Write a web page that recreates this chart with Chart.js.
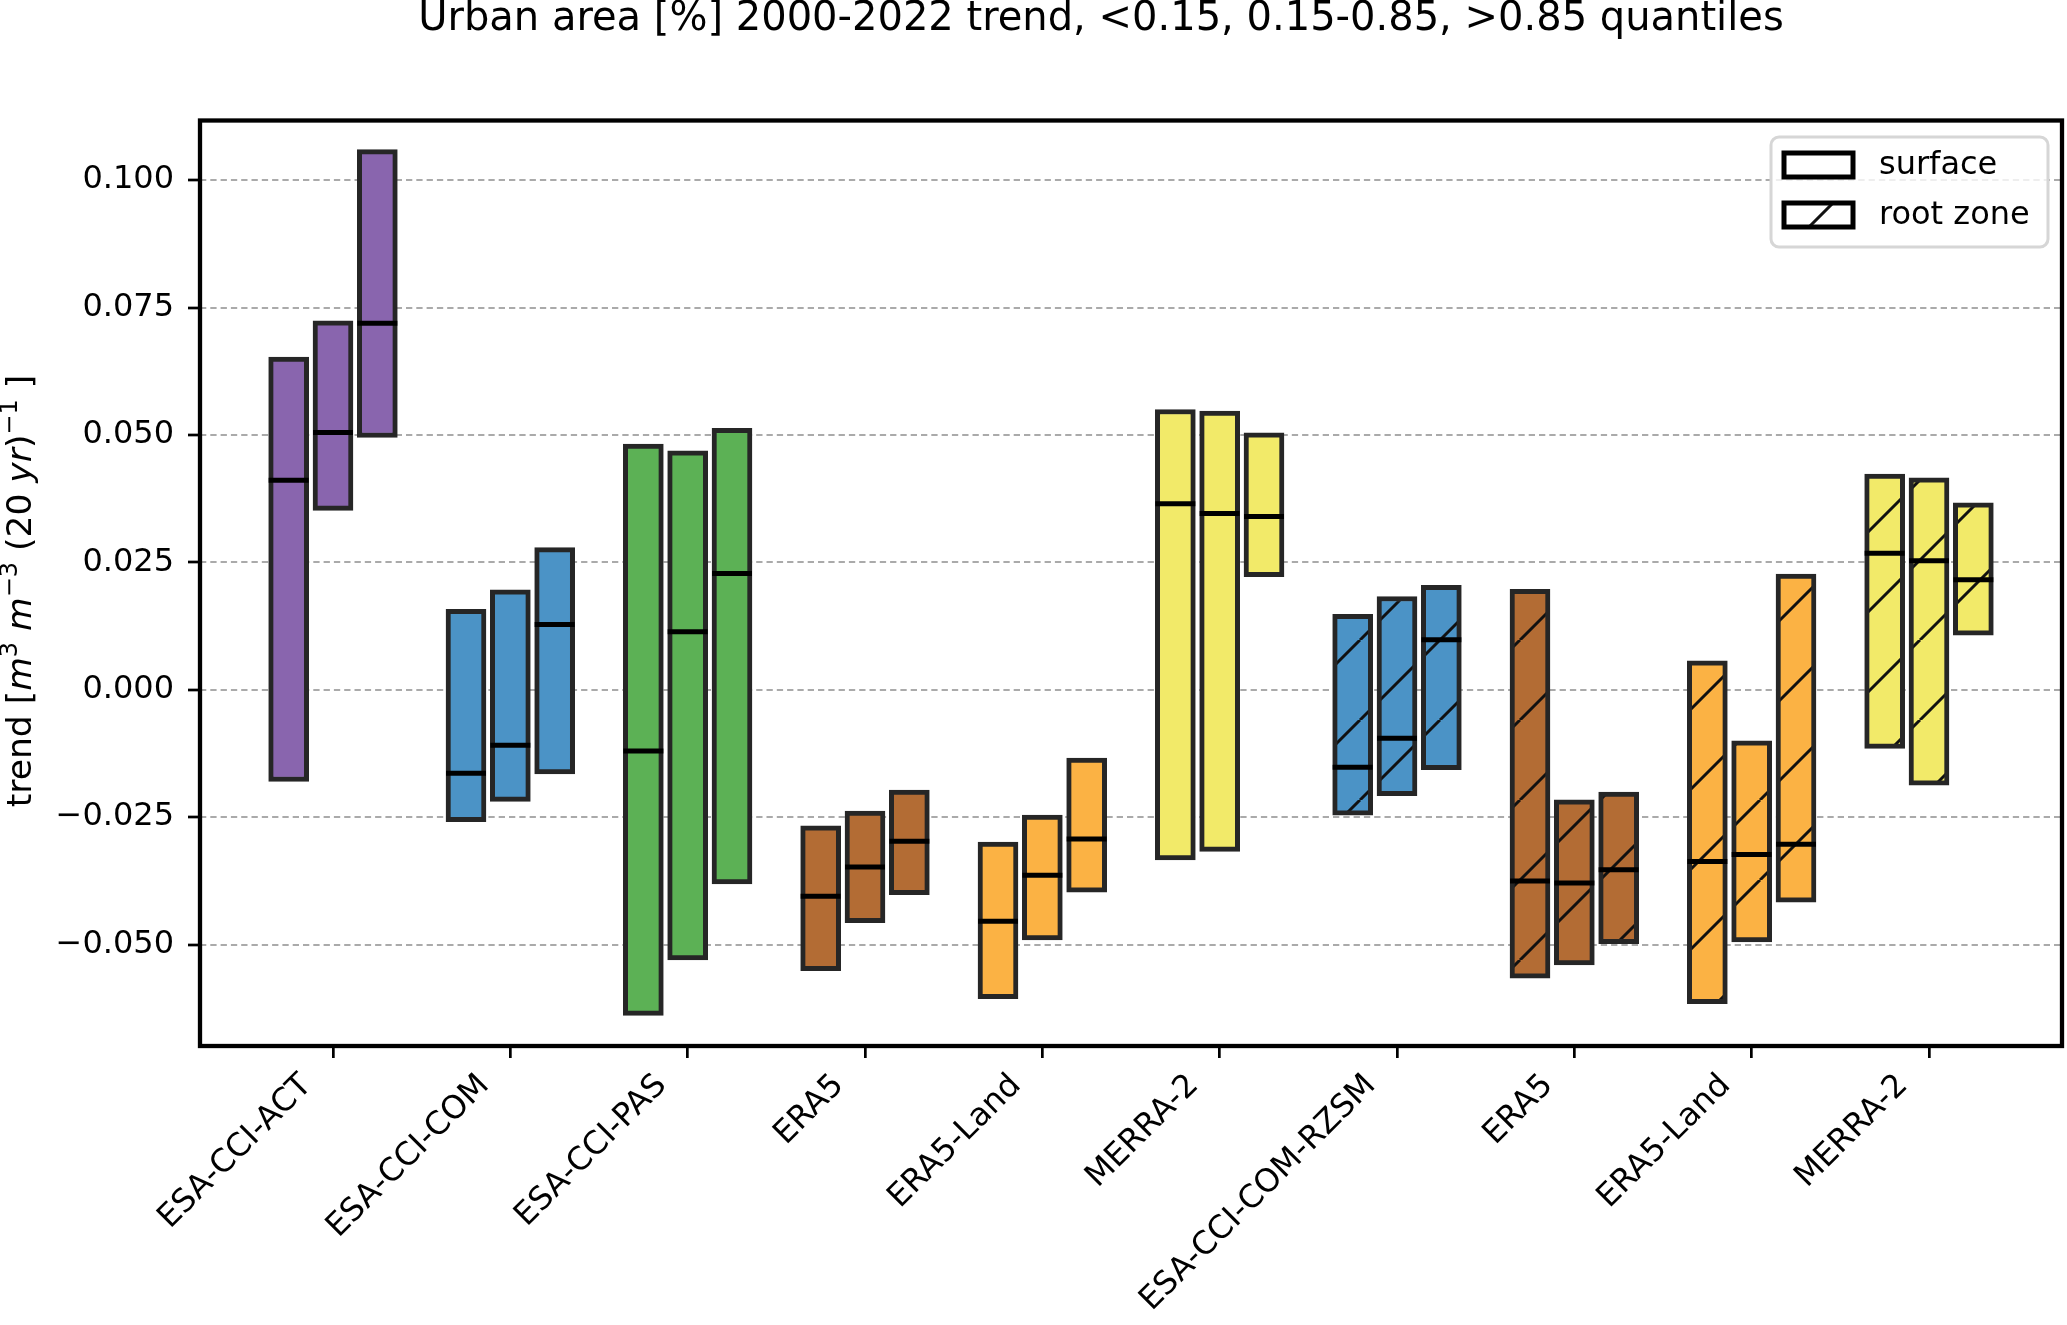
<!DOCTYPE html>
<html>
<head>
<meta charset="utf-8">
<script src="https://cdn.jsdelivr.net/npm/chart.js@4.4.0/dist/chart.umd.min.js"></script>
<style>
  html, body { margin: 0; padding: 0; background: #fff; }
  #wrap { width: 2067px; height: 1325px; }
</style>
</head>
<body>
<div id="wrap"><canvas id="trendChart" width="2067" height="1325"></canvas></div>
<script>
// products, and whether each one is a surface or a root zone product
const categories = ['ESA-CCI-ACT', 'ESA-CCI-COM', 'ESA-CCI-PAS', 'ERA5', 'ERA5-Land', 'MERRA-2',
                    'ESA-CCI-COM-RZSM', 'ERA5', 'ERA5-Land', 'MERRA-2'];
const layer = ['surface', 'surface', 'surface', 'surface', 'surface', 'surface',
               'root zone', 'root zone', 'root zone', 'root zone'];
const layerNames = ['surface', 'root zone'];
const yTicks = [-0.05, -0.025, 0, 0.025, 0.05, 0.075, 0.1];

// urban area < 0.15 quantile
const q15Low  = [-0.0180, -0.0259, -0.0639, -0.0551, -0.0606, -0.0334, -0.0246, -0.0566, -0.0616, -0.0115];
const q15Med  = [ 0.0411, -0.0164, -0.0120, -0.0405, -0.0454,  0.0365, -0.0152, -0.0375, -0.0337,  0.0268];
const q15High = [ 0.0653,  0.0158,  0.0482, -0.0267, -0.0299,  0.0550,  0.0148,  0.0197,  0.0057,  0.0423];
// 0.15 - 0.85
const midLow  = [ 0.0352, -0.0219, -0.0530, -0.0457, -0.0491, -0.0317, -0.0208, -0.0540, -0.0495, -0.0187];
const midMed  = [ 0.0505, -0.0109,  0.0114, -0.0348, -0.0364,  0.0346, -0.0095, -0.0379, -0.0323,  0.0253];
const midHigh = [ 0.0724,  0.0196,  0.0469, -0.0238, -0.0246,  0.0547,  0.0183, -0.0216, -0.0100,  0.0416];
// > 0.85
const q85Low  = [ 0.0495, -0.0165, -0.0381, -0.0402, -0.0397,  0.0222, -0.0157, -0.0498, -0.0417,  0.0107];
const q85Med  = [ 0.0719,  0.0128,  0.0228, -0.0297, -0.0293,  0.0340,  0.0098, -0.0353, -0.0303,  0.0216];
const q85High = [ 0.1060,  0.0279,  0.0513, -0.0197, -0.0134,  0.0504,  0.0205, -0.0201,  0.0227,  0.0367];

const boxColors = ['#8965ae', '#4b93c6', '#5cb155', '#b36c34', '#fbb244', '#f2ea69',
                   '#4b93c6', '#b36c34', '#fbb244', '#f2ea69'];

const groups = [
    { lo: q15Low, med: q15Med, hi: q15High, shift: -0.25 },
    { lo: midLow, med: midMed, hi: midHigh, shift: 0 },
    { lo: q85Low, med: q85Med, hi: q85High, shift: 0.25 }
];

// '/' hatch like matplotlib
function hatch(color) {
    const s = 80;
    const c = document.createElement('canvas');
    c.width = s; c.height = s;
    const g = c.getContext('2d');
    g.fillStyle = color;
    g.fillRect(0, 0, s, s);
    g.strokeStyle = '#111';
    g.lineWidth = 3;
    g.beginPath();
    for (let k = -1; k <= 1; k++) {
        g.moveTo(k * s, s);
        g.lineTo(k * s + s, 0);
    }
    g.stroke();
    return g.createPattern(c, 'repeat');
}

const datasets = [];
groups.forEach(g => {
    datasets.push({
        type: 'bar',
        order: 1,
        data: categories.map((c, i) => ({ x: i + g.shift, y: [g.lo[i], g.hi[i]] })),
        backgroundColor: categories.map((c, i) => layer[i] === 'root zone' ? hatch(boxColors[i]) : boxColors[i]),
        borderColor: '#262626',
        borderWidth: 5,
        borderSkipped: false,
        barThickness: 40,
        grouped: false
    });
    datasets.push({
        type: 'scatter',
        order: 0,
        data: categories.map((c, i) => ({ x: i + g.shift, y: g.med[i] })),
        pointStyle: 'line',
        pointRadius: 20,
        pointBorderWidth: 5,
        borderColor: '#000'
    });
});

// the title sits a bit left of the axes centre in the original
const titleShift = {
    id: 'titleShift',
    afterLayout(chart) { chart.titleBlock.left = 140; }
};

const frame = {
    id: 'frame',
    afterDatasetsDraw(chart) {
        const { ctx, chartArea: a } = chart;
        ctx.save();
        ctx.strokeStyle = '#000';
        ctx.lineWidth = 4.3;
        ctx.strokeRect(a.left, a.top, a.right - a.left, a.bottom - a.top);
        ctx.restore();
    }
};

const legendBox = {
    id: 'legendBox',
    afterDraw(chart) {
        const { ctx, chartArea: a } = chart;
        const x0 = a.right - 291, y0 = a.top + 16.5;
        ctx.save();
        ctx.fillStyle = 'rgba(255,255,255,0.8)';
        ctx.strokeStyle = '#d6d6d6';
        ctx.lineWidth = 3;
        ctx.beginPath();
        ctx.roundRect(x0, y0, 277, 110, 8);
        ctx.fill();
        ctx.stroke();
        layerNames.forEach((name, k) => {
            const sx = x0 + 13, sy = y0 + 16 + k * 50;
            ctx.fillStyle = '#fff';
            ctx.fillRect(sx, sy, 69, 24);
            if (name === 'root zone') {
                ctx.save();
                ctx.beginPath();
                ctx.rect(sx, sy, 69, 24);
                ctx.clip();
                ctx.strokeStyle = '#111';
                ctx.lineWidth = 3;
                ctx.beginPath();
                ctx.moveTo(sx + 23, sy + 26);
                ctx.lineTo(sx + 51, sy - 2);
                ctx.stroke();
                ctx.restore();
            }
            ctx.strokeStyle = '#000';
            ctx.lineWidth = 5;
            ctx.strokeRect(sx, sy, 69, 24);
            ctx.fillStyle = '#000';
            ctx.font = '32px "DejaVu Sans"';
            ctx.textBaseline = 'middle';
            ctx.fillText(name, x0 + 108, sy + 13);
        });
        ctx.restore();
    }
};

// y axis label with italic units and superscripts
const yTitleParts = [
    ['trend [', 'normal', 0], ['m', 'italic', 0], ['3', 'normal', 1], [' ', 'normal', 0],
    ['m', 'italic', 0], ['\u22123', 'normal', 1], [' (20 ', 'normal', 0], ['yr', 'italic', 0],
    [')', 'normal', 0], ['\u22121', 'normal', 1], [' ]', 'normal', 0]
];
const yTitle = {
    id: 'yTitle',
    afterDraw(chart) {
        const { ctx } = chart;
        const fontOf = p => p[2] ? '24px "DejaVu Sans"' : `${p[1]} 34.5px "DejaVu Sans"`;
        ctx.save();
        ctx.translate(18.5, 591);
        ctx.rotate(-Math.PI / 2);
        let total = 0;
        yTitleParts.forEach(p => { ctx.font = fontOf(p); total += ctx.measureText(p[0]).width; });
        let x = -total / 2;
        ctx.fillStyle = '#000';
        ctx.textBaseline = 'alphabetic';
        yTitleParts.forEach(p => {
            ctx.font = fontOf(p);
            ctx.fillText(p[0], x, p[2] ? -2 : 12);
            x += ctx.measureText(p[0]).width;
        });
        ctx.restore();
    }
};

new Chart(document.getElementById('trendChart').getContext('2d'), {
    data: { datasets: datasets },
    options: {
        responsive: false,
        devicePixelRatio: 1,
        animation: false,
        events: [],
        layout: { autoPadding: false, padding: { left: 0, right: 5, top: 0, bottom: 0 } },
        plugins: {
            legend: { display: false },
            tooltip: { enabled: false },
            title: {
                display: true,
                text: 'Urban area [%] 2000-2022 trend, <0.15, 0.15-0.85, >0.85 quantiles',
                color: '#000',
                font: { family: 'DejaVu Sans', size: 40, weight: 'normal', lineHeight: 1 },
                padding: { top: 0, bottom: 80.5 }
            }
        },
        scales: {
            x: {
                type: 'linear',
                min: -0.75,
                max: 9.75,
                offset: false,
                afterBuildTicks: s => { s.ticks = categories.map((c, i) => ({ value: i })); },
                afterFit: s => { s.height = 279; s.paddingLeft = 0; s.paddingRight = 0; },
                border: { display: false },
                grid: { offset: false, drawOnChartArea: false, color: '#000', lineWidth: 2.7, tickLength: 12 },
                ticks: {
                    color: '#000',
                    font: { family: 'DejaVu Sans', size: 32 },
                    minRotation: 45,
                    maxRotation: 45,
                    autoSkip: false,
                    padding: 9,
                    labelOffset: -26,
                    callback: v => categories[Math.round(v)]
                }
            },
            y: {
                min: -0.0699,
                max: 0.1117,
                afterBuildTicks: s => { s.ticks = yTicks.map(v => ({ value: v })); },
                afterFit: s => { s.width = 200; s.paddingTop = 0; s.paddingBottom = 0; },
                border: { display: false, dash: [6.3, 4] },
                grid: {
                    color: '#aaaaaa',
                    lineWidth: 2,
                    tickColor: '#000',
                    tickWidth: 2.7,
                    tickLength: 12,
                    tickBorderDash: []
                },
                ticks: {
                    color: '#000',
                    font: { family: 'DejaVu Sans', size: 32 },
                    padding: 14,
                    callback: v => v.toFixed(3).replace('-', '\u2212')
                }
            }
        }
    },
    plugins: [titleShift, frame, legendBox, yTitle]
});
</script>
</body>
</html>
